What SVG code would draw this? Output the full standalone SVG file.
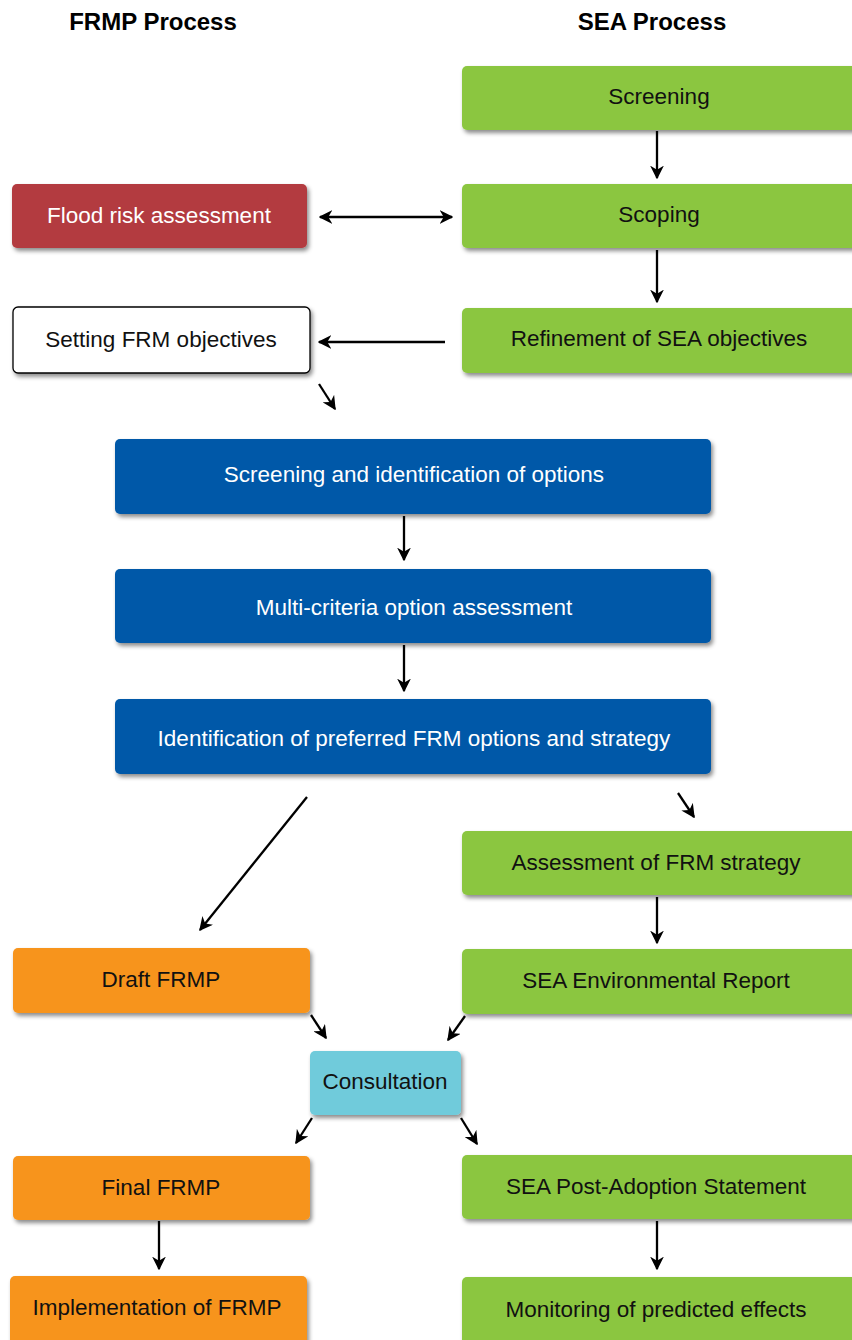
<svg xmlns="http://www.w3.org/2000/svg" width="852" height="1340" viewBox="0 0 852 1340">
<defs>
<filter id="sh" x="-10%" y="-20%" width="130%" height="160%">
<feDropShadow dx="2" dy="3" stdDeviation="2" flood-color="#000" flood-opacity="0.45"/>
</filter>
<marker id="ah" viewBox="0 0 10 10" refX="9" refY="5" markerWidth="6" markerHeight="6" orient="auto-start-reverse" markerUnits="strokeWidth">
<path d="M0,0 L10,5 L0,10 L3,5 Z" fill="#000"/>
</marker>
</defs>
<style>
.t{font-family:"Liberation Sans",Arial,sans-serif;font-size:22.5px;text-anchor:middle;dominant-baseline:central}
.w{fill:#fff}
.k{fill:#111}
.h{font-family:"Liberation Sans",Arial,sans-serif;font-size:24px;font-weight:bold;text-anchor:middle;fill:#000}
.g{fill:#8bc641}
.o{fill:#f7941d}
.b{fill:#0659a8}
.r{fill:#b33b3f}
.c{fill:#6fcbdb}
.n{fill:#fff;stroke:#000;stroke-width:1.3}
.box{filter:url(#sh)}
.a{stroke:#000;stroke-width:2.3;fill:none;marker-end:url(#ah)}
</style>
<rect width="852" height="1340" fill="#fff"/>
<text class="h" x="153" y="30">FRMP Process</text>
<text class="h" x="652" y="30">SEA Process</text>

<g id="screening"><rect class="box g" x="462" y="66" width="396" height="64" rx="5"/><text class="t k" x="659" y="96">Screening</text></g>
<g id="scoping"><rect class="box g" x="462" y="184" width="396" height="64" rx="5"/><text class="t k" x="659" y="214">Scoping</text></g>
<g id="refinement"><rect class="box g" x="462" y="308" width="396" height="65" rx="5"/><text class="t k" x="659" y="338">Refinement of SEA objectives</text></g>
<g id="flood"><rect class="box r" x="12" y="184" width="295" height="64" rx="5"/><text class="t w" x="159" y="215">Flood risk assessment</text></g>
<g id="setting"><rect class="box n" x="13" y="307" width="297" height="66" rx="5"/><text class="t k" x="161" y="339">Setting FRM objectives</text></g>
<g id="blue1"><rect class="box b" x="115" y="439" width="596" height="75" rx="5"/><text class="t w" x="414" y="474">Screening and identification of options</text></g>
<g id="blue2"><rect class="box b" x="115" y="569" width="596" height="74" rx="5"/><text class="t w" x="414" y="607">Multi-criteria option assessment</text></g>
<g id="blue3"><rect class="box b" x="115" y="699" width="596" height="75" rx="5"/><text class="t w" x="414" y="738">Identification of preferred FRM options and strategy</text></g>
<g id="assessment"><rect class="box g" x="462" y="831" width="396" height="64" rx="5"/><text class="t k" x="656" y="862">Assessment of FRM strategy</text></g>
<g id="envreport"><rect class="box g" x="462" y="949" width="396" height="65" rx="5"/><text class="t k" x="656" y="980">SEA Environmental Report</text></g>
<g id="draft"><rect class="box o" x="13" y="948" width="297" height="65" rx="5"/><text class="t k" x="161" y="979">Draft FRMP</text></g>
<g id="consultation"><rect class="box c" x="310" y="1051" width="151" height="64" rx="5"/><text class="t k" x="385" y="1081">Consultation</text></g>
<g id="final"><rect class="box o" x="13" y="1156" width="297" height="64" rx="5"/><text class="t k" x="161" y="1187">Final FRMP</text></g>
<g id="postadoption"><rect class="box g" x="462" y="1155" width="396" height="64" rx="5"/><text class="t k" x="656" y="1186">SEA Post-Adoption Statement</text></g>
<g id="implementation"><rect class="box o" x="10" y="1276" width="297" height="70" rx="5"/><text class="t k" x="157" y="1307">Implementation of FRMP</text></g>
<g id="monitoring"><rect class="box g" x="462" y="1277" width="396" height="70" rx="5"/><text class="t k" x="656" y="1309">Monitoring of predicted effects</text></g>

<g id="connectors">
<line class="a" x1="657" y1="131" x2="657" y2="178"/>
<line class="a" x1="320" y1="217" x2="452" y2="217" style="marker-start:url(#ah)"/>
<line class="a" x1="657" y1="250" x2="657" y2="302"/>
<line class="a" x1="445" y1="342" x2="319" y2="342"/>
<line class="a" x1="319" y1="384" x2="335" y2="409"/>
<line class="a" x1="404" y1="516" x2="404" y2="560"/>
<line class="a" x1="404" y1="645" x2="404" y2="691"/>
<line class="a" x1="307" y1="797" x2="200" y2="930"/>
<line class="a" x1="678" y1="793" x2="694" y2="817"/>
<line class="a" x1="657" y1="897" x2="657" y2="943"/>
<line class="a" x1="311" y1="1015" x2="326" y2="1038"/>
<line class="a" x1="465" y1="1016" x2="448" y2="1040"/>
<line class="a" x1="312" y1="1118" x2="296" y2="1143"/>
<line class="a" x1="461" y1="1118" x2="477" y2="1144"/>
<line class="a" x1="159" y1="1221" x2="159" y2="1269"/>
<line class="a" x1="657" y1="1221" x2="657" y2="1269"/>
</g>
</svg>
